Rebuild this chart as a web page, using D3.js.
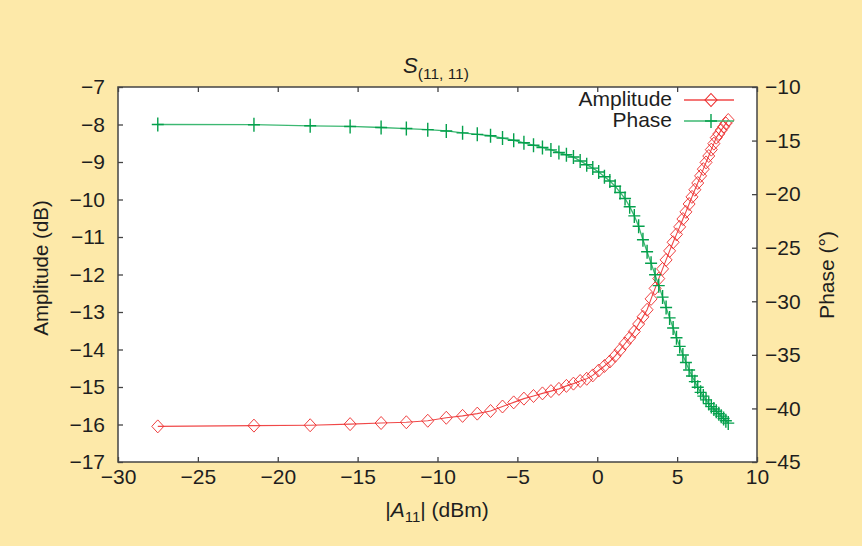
<!DOCTYPE html>
<html>
<head>
<meta charset="utf-8">
<script src="https://cdn.jsdelivr.net/npm/d3@7/dist/d3.min.js"></script>
<style>
  html, body { margin: 0; padding: 0; background: #fde9a9; }
  svg { display: block; }
  text { font-family: "Liberation Sans", Arial, sans-serif; fill: #1e1e1e; }
</style>
</head>
<body>
<svg id="chart" width="862" height="546"></svg>
<script>
// ---------- data ----------
const inputPower = [
  -27.51, -21.49, -17.97, -15.47, -13.53, -11.95, -10.61, -9.45, -8.43, -7.51,
  -6.68, -5.93, -5.23, -4.59, -3.99, -3.43, -2.90, -2.40, -1.93, -1.49,
  -1.07, -0.66, -0.28, 0.09, 0.45, 0.79, 1.12, 1.43, 1.74, 2.03,
  2.32, 2.59, 2.86, 3.12, 3.37, 3.62, 3.85, 4.09, 4.31, 4.53,
  4.75, 4.96, 5.16, 5.36, 5.55, 5.75, 5.93, 6.11, 6.29, 6.47,
  6.64, 6.81, 6.98, 7.14, 7.30, 7.45, 7.61, 7.76, 7.91, 8.05, 8.20
];
const amplitudeDb = [
  -16.05, -16.03, -16.02, -15.99, -15.96, -15.94, -15.90, -15.82, -15.77, -15.71,
  -15.64, -15.52, -15.41, -15.31, -15.24, -15.17, -15.11, -15.05, -14.97, -14.91,
  -14.84, -14.78, -14.69, -14.56, -14.44, -14.32, -14.17, -14.01, -13.84, -13.69,
  -13.52, -13.32, -13.13, -12.94, -12.65, -12.37, -12.11, -11.85, -11.61, -11.37,
  -11.14, -10.93, -10.73, -10.52, -10.33, -10.12, -9.93, -9.74, -9.56, -9.37,
  -9.19, -9.01, -8.84, -8.67, -8.51, -8.35, -8.25, -8.15, -8.06, -7.97, -7.88
];
const phaseDeg = [
  -13.50, -13.52, -13.62, -13.68, -13.78, -13.88, -13.98, -14.10, -14.28, -14.42,
  -14.55, -14.77, -14.97, -15.21, -15.43, -15.64, -15.87, -16.11, -16.33, -16.54,
  -16.90, -17.25, -17.57, -17.93, -18.37, -18.78, -19.26, -19.84, -20.41, -21.17,
  -22.03, -23.00, -24.25, -25.38, -26.45, -27.53, -28.54, -29.61, -30.58, -31.55,
  -32.50, -33.40, -34.21, -35.02, -35.71, -36.42, -36.98, -37.50, -38.02, -38.50,
  -38.85, -39.20, -39.55, -39.83, -40.06, -40.27, -40.50, -40.72, -40.94, -41.15, -41.37
];
const xTicks = [-30, -25, -20, -15, -10, -5, 0, 5, 10];
const ampTicks = [-17, -16, -15, -14, -13, -12, -11, -10, -9, -8, -7];
const phaseTicks = [-45, -40, -35, -30, -25, -20, -15, -10];
const seriesNames = ["Amplitude", "Phase"];

// ---------- layout ----------
const L = 118, R = 757, T = 87, B = 462;
const svg = d3.select("#chart");
const x = d3.scaleLinear().domain([-30, 10]).range([L, R]);
const yA = d3.scaleLinear().domain([-17, -7]).range([B, T]);
const yP = d3.scaleLinear().domain([-45, -10]).range([B, T]);
const fmt = d3.format("");
const tickFont = 21;

svg.append("rect").attr("x", 0).attr("y", 0).attr("width", 862).attr("height", 546).attr("fill", "#fde9a9");
svg.append("rect").attr("x", L).attr("y", T).attr("width", R - L).attr("height", B - T).attr("fill", "#fff");

function styleAxis(g) {
  g.select(".domain").remove();
  g.selectAll(".tick line").attr("stroke", "#444").attr("stroke-width", 1.3);
  g.selectAll(".tick text").attr("font-size", tickFont).attr("fill", "#1e1e1e")
    .attr("font-family", "'Liberation Sans', Arial, sans-serif");
}

svg.append("g").attr("transform", `translate(0,${B})`)
  .call(d3.axisBottom(x).tickValues(xTicks).tickFormat(fmt).tickSizeInner(-5).tickSizeOuter(0).tickPadding(7))
  .call(styleAxis);
svg.append("g").attr("transform", `translate(0,${T})`)
  .call(d3.axisTop(x).tickValues(xTicks).tickFormat("").tickSizeInner(-5).tickSizeOuter(0))
  .call(styleAxis);
svg.append("g").attr("transform", `translate(${L},0)`)
  .call(d3.axisLeft(yA).tickValues(ampTicks).tickFormat(fmt).tickSizeInner(-5).tickSizeOuter(0).tickPadding(13))
  .call(styleAxis);
svg.append("g").attr("transform", `translate(${R},0)`)
  .call(d3.axisRight(yP).tickValues(phaseTicks).tickFormat(fmt).tickSizeInner(-5).tickSizeOuter(0).tickPadding(8))
  .call(styleAxis);

svg.append("rect").attr("x", L).attr("y", T).attr("width", R - L).attr("height", B - T)
  .attr("fill", "none").attr("stroke", "#444").attr("stroke-width", 1.5);

// ---------- series ----------
const ampColor = "#ec2a2a", ampLine = "#f04848";
const phColor = "#04a04c", phLine = "#3cb872";
const diamond = "M0,-6.5L6,0L0,6.5L-6,0Z";
const plus = "M-6,0H6M0,-7V7";

const ampData = inputPower.map((v, i) => [v, amplitudeDb[i]]);
const phData = inputPower.map((v, i) => [v, phaseDeg[i]]);

const plot = svg.append("g");
plot.append("path").datum(ampData)
  .attr("d", d3.line().x(d => x(d[0])).y(d => yA(d[1])))
  .attr("fill", "none").attr("stroke", ampLine).attr("stroke-width", 1.1);
plot.append("path").datum(phData)
  .attr("d", d3.line().x(d => x(d[0])).y(d => yP(d[1])))
  .attr("fill", "none").attr("stroke", phLine).attr("stroke-width", 1.3);

plot.selectAll(".amp").data(ampData).join("path").attr("class", "amp")
  .attr("transform", d => `translate(${x(d[0])},${yA(d[1])})`)
  .attr("d", diamond).attr("fill", "none").attr("stroke", ampColor).attr("stroke-width", 0.9);
plot.selectAll(".ph").data(phData).join("path").attr("class", "ph")
  .attr("transform", d => `translate(${x(d[0])},${yP(d[1])})`)
  .attr("d", plus).attr("fill", "none").attr("stroke", phColor).attr("stroke-width", 1.4);

// ---------- legend ----------
const legRows = [100, 121];
const leg = svg.append("g");
seriesNames.forEach((name, i) => {
  const yy = legRows[i];
  leg.append("text").attr("x", 672).attr("y", yy + 5.5).attr("text-anchor", "end")
    .attr("font-size", tickFont).text(name);
  leg.append("line").attr("x1", 684).attr("x2", 734).attr("y1", yy).attr("y2", yy)
    .attr("stroke", i === 0 ? ampLine : phLine).attr("stroke-width", 1.3);
  leg.append("path").attr("transform", `translate(711,${yy})`)
    .attr("d", i === 0 ? diamond : plus).attr("fill", "none")
    .attr("stroke", i === 0 ? ampColor : phColor).attr("stroke-width", i === 0 ? 1.1 : 1.4);
});

// ---------- titles ----------
const title = svg.append("text").attr("x", 436).attr("y", 73).attr("text-anchor", "middle").attr("font-size", 22);
title.append("tspan").attr("font-style", "italic").text("S");
title.append("tspan").attr("font-size", 15.5).attr("dy", 6).text("(11, 11)");

const xl = svg.append("text").attr("x", 437).attr("y", 517).attr("text-anchor", "middle").attr("font-size", 21);
xl.append("tspan").text("|");
xl.append("tspan").attr("font-style", "italic").text("A");
xl.append("tspan").attr("font-size", 15).attr("dy", 5).text("11");
xl.append("tspan").attr("dy", -5).text("| (dBm)");

svg.append("text").attr("transform", "translate(48,268) rotate(-90)")
  .attr("text-anchor", "middle").attr("font-size", 20.5).text("Amplitude (dB)");
svg.append("text").attr("transform", "translate(834,275) rotate(-90)")
  .attr("text-anchor", "middle").attr("font-size", 21).text("Phase (°)");
</script>
</body>
</html>
